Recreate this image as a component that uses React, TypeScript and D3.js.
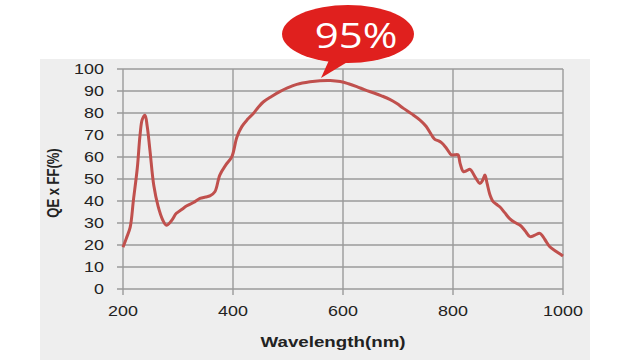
import React from 'react';
import * as d3 from 'd3';

// wavelength (nm) vs QE x FF (%)
const wavelengths = [
  200, 206, 213, 219, 226, 231, 235, 240, 244, 249, 256, 264, 272, 279, 288, 297, 306,
  316, 328, 340, 350, 358, 367, 376, 387, 398, 407, 416, 426, 437, 446, 455, 470, 485, 500, 516, 540, 558, 577,
  595, 610, 625, 640, 655, 670, 685, 698, 710, 725, 740, 751, 761, 767, 772, 779, 788, 797, 803, 809, 813,
  819, 825, 831, 840, 849, 854, 858, 862, 867, 873, 879, 885, 894, 903, 912, 922, 931, 940, 949,
  958, 967, 976, 987, 997, 1000,
];
const qeValues = [
  19, 23, 28, 40.5, 55, 70, 77, 79, 74, 63, 47, 37.4, 31.5, 29, 31, 34.4, 36,
  37.8, 39.3, 41.2, 41.8, 42.3, 44.2, 51.8, 56.4, 60.2, 69, 73.8, 77, 79.8, 82.6, 85, 87.5, 89.7, 91.5, 93, 94.2, 94.7, 94.8,
  94.3, 93.3, 92, 90.5, 89.2, 87.8, 86.2, 84.3, 82.1, 79.6, 76.8, 74, 70, 68, 67.5, 66.5, 64, 61, 61, 61, 57,
  53.3, 53.8, 54.4, 51, 48, 49.5, 51.8, 48, 43, 39.7, 38.5, 37.4, 34.7, 32, 30.3, 29, 26.5, 23.8, 24.5,
  25.3, 22.5, 19.2, 17.2, 15.5, 15,
];
const xTicks = [200, 400, 600, 800, 1000];
const yTicks = [0, 10, 20, 30, 40, 50, 60, 70, 80, 90, 100];
const peakLabel = '95%';
const peakWavelength = 563;
const peakValue = 95;

const FONT = '"Liberation Sans", Arial, sans-serif';
const SX = 1.28;

export default function App() {
  const x = d3.scaleLinear().domain([200, 1000]).range([123, 563]);
  const y = d3.scaleLinear().domain([0, 100]).range([289, 69]);

  const points: [number, number][] = wavelengths.map((w, i) => [w, qeValues[i]]);
  const line = d3
    .line<[number, number]>()
    .x(d => x(d[0]))
    .y(d => y(d[1]))
    .curve(d3.curveCatmullRom.alpha(0.5));

  const grid = '#9a9a9a';
  const tipX = x(peakWavelength - 3);
  const tipY = y(peakValue) - 2;

  return (
    <div style={{ position: 'absolute', left: 0, top: 0 }}>
      <svg width={630} height={360} style={{ display: 'block' }}>
        <rect x={0} y={0} width={630} height={360} fill="#ffffff" />
        <rect x={40} y={59} width={550} height={301} fill="#eeeeee" />

        {/* grid */}
        {yTicks.map(t => (
          <line key={'gy' + t} x1={117} x2={x(1000)} y1={y(t)} y2={y(t)} stroke={grid} strokeWidth={1.4} />
        ))}
        {xTicks.map(t => (
          <line key={'gx' + t} x1={x(t)} x2={x(t)} y1={y(100)} y2={y(0) + 6} stroke={grid} strokeWidth={1.4} />
        ))}

        {/* y tick labels */}
        {yTicks.map(t => (
          <g key={'ly' + t} transform={`translate(104,${y(t) + 5}) scale(${SX},1)`}>
            <text textAnchor="end" fontFamily={FONT} fontSize={14} fill="#222">
              {t}
            </text>
          </g>
        ))}
        {/* x tick labels */}
        {xTicks.map(t => (
          <g key={'lx' + t} transform={`translate(${x(t)},316) scale(${SX},1)`}>
            <text textAnchor="middle" fontFamily={FONT} fontSize={14} fill="#222">
              {t}
            </text>
          </g>
        ))}

        {/* axis titles */}
        <g transform={`translate(333,347) scale(1.25,1)`}>
          <text textAnchor="middle" fontFamily={FONT} fontSize={15} fontWeight="bold" fill="#222">
            Wavelength(nm)
          </text>
        </g>
        <g transform={`translate(59,183) rotate(-90) scale(1,1.2)`}>
          <text textAnchor="middle" fontFamily={FONT} fontSize={13} fontWeight="bold" fill="#222">
            QE x FF(%)
          </text>
        </g>

        {/* curve */}
        <path d={line(points) ?? ''} fill="none" stroke="#c0504d" strokeWidth={3} strokeLinejoin="round" />

        {/* callout */}
        <path d={`M330,58 L354,58 L${tipX},${tipY} Z`} fill="#e0201e" />
        <ellipse cx={348} cy={34} rx={66} ry={29} fill="#e0201e" />
        <g transform={`translate(356,48) scale(1.2,1)`}>
          <text textAnchor="middle" fontFamily={'"Open Sans", sans-serif'} fontSize={35} fill="#ffffff">
            {peakLabel}
          </text>
        </g>
      </svg>
    </div>
  );
}
